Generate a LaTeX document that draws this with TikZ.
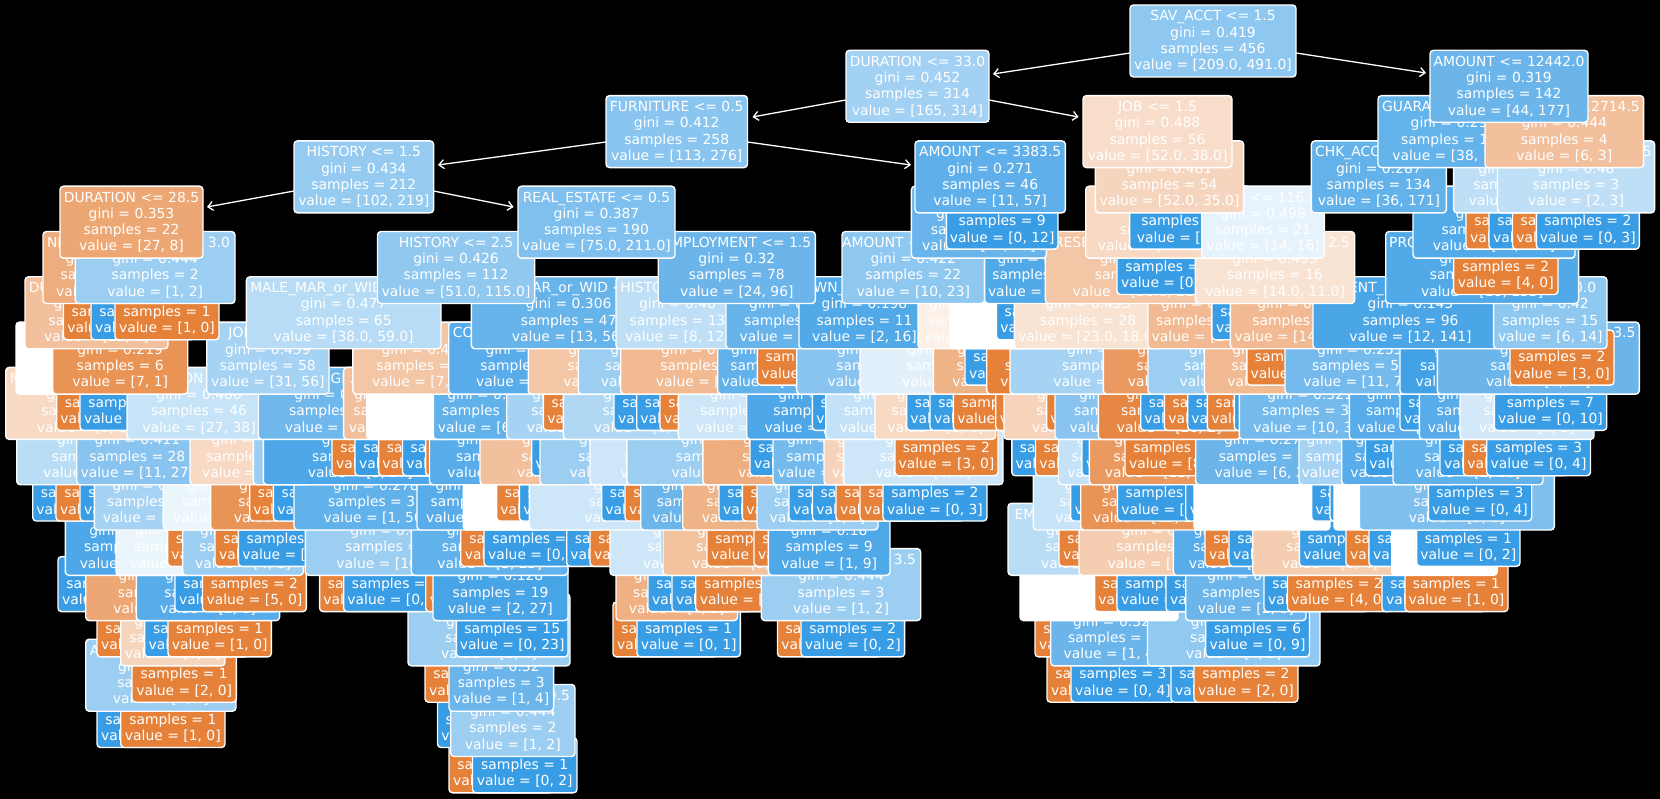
\documentclass[tikz,border=0pt]{standalone}
\usepackage{fontspec}
\setmainfont{DejaVu Sans}
\usetikzlibrary{arrows.meta}
\definecolor{b}{HTML}{399DE5}
\definecolor{o}{HTML}{E58139}
\tikzset{
  bx/.style={draw=white,line width=1.4pt,rounded corners=3.5pt,inner sep=0pt,outer sep=0pt,text=white,
    font=\fontsize{13.89}{16.3}\selectfont},
  edg/.style={draw=white,line width=1.3pt,-{Straight Barb[length=5pt,width=9pt]}}
}
\newcommand\tbn[1]{\raisebox{-1pt}[\height][\depth]{\makebox[0pt]{\begin{tabular}{@{}c@{}}#1\end{tabular}}}}
\newcommand\geo[3]{\pgfmathsetmacro\cxx{(#2+#3)/2}\pgfmathsetmacro\cyy{41+45.3*#1}\pgfmathsetmacro\wdd{#3-#2}}
% name level x1 x2 colour label gini samples value
\newcommand\ndn[9]{\geo{#2}{#3}{#4}\node[bx,fill=#5,minimum width=\wdd pt,minimum height=72pt] (#1) at (\cxx,\cyy)
  {\tbn{#6\\gini = #7\\samples = #8\\value = [#9]}};}
% name level x1 x2 colour samples value
\newcommand\lfn[7]{\geo{#2}{#3}{#4}\node[bx,fill=#5,minimum width=\wdd pt,minimum height=55pt] (#1) at (\cxx,\cyy-0.5)
  {\tbn{\\samples = #6\\value = [#7]}};}
\newcommand\whn[4]{\geo{#2}{#3}{#4}\node[bx,fill=white,minimum width=\wdd pt,minimum height=72pt] (#1) at (\cxx,\cyy) {};}
\begin{document}
\begin{tikzpicture}[x=1pt,y=-1pt]
\useasboundingbox[fill=black] (0,0) rectangle (1660,799);
% level 16
\lfn{p1}{16}{449}{553}{o}{1}{1, 0}
\lfn{p2}{16}{472.5}{577}{b}{1}{0, 2}
% level 15
\lfn{q1}{15}{97}{201}{b}{1}{0, 1}
\lfn{q2}{15}{120.7}{225}{o}{1}{1, 0}
\lfn{q3}{15}{437.5}{541}{b}{1}{0, 2}
\ndn{q4}{15}{450.7}{575}{b!50}{HISTORY <= 0.5}{0.444}{2}{1, 2}
% level 14
\ndn{r1}{14}{85.7}{236}{b!50}{AMOUNT <= 1372.5}{0.444}{2}{1, 2}
\lfn{r2}{14}{132}{236.4}{o}{1}{2, 0}
\lfn{r3}{14}{425}{529}{o}{1}{1, 0}
\ndn{r4}{14}{449}{553.6}{b!75}{}{0.32}{3}{1, 4}
\lfn{r5}{14}{1047}{1151}{o}{1}{1, 0}
\lfn{r6}{14}{1071}{1175}{b}{3}{0, 4}
\lfn{r7}{14}{1171}{1275}{b}{1}{0, 1}
\lfn{r8}{14}{1194}{1298}{o}{2}{2, 0}
% level 13
\lfn{s1}{13}{97}{201}{o}{1}{1, 0}
\ndn{s2}{13}{120.7}{225}{o!33}{}{0.48}{3}{3, 2}
\lfn{s3}{13}{144.6}{248.6}{b}{1}{0, 1}
\lfn{s4}{13}{168}{271.4}{o}{1}{1, 0}
\ndn{s5}{13}{408}{570}{b!50}{}{0.444}{4}{2, 4}
\lfn{s6}{13}{456.4}{568}{b}{15}{0, 23}
\lfn{s7}{13}{613}{717}{o}{1}{1, 0}
\lfn{s8}{13}{637}{740.4}{b}{1}{0, 1}
\lfn{s9}{13}{777.5}{881}{o}{1}{1, 0}
\lfn{s10}{13}{801}{904.6}{b}{2}{0, 2}
\lfn{s11}{13}{1035}{1139}{o}{1}{1, 0}
\ndn{s12}{13}{1050.7}{1172.5}{b!75}{}{0.32}{4}{1, 4}
\ndn{s13}{13}{1147.5}{1320}{b!55}{}{0.426}{7}{4, 9}
\lfn{s14}{13}{1205.7}{1309.5}{b}{6}{0, 9}
% level 12
\lfn{t1}{12}{58}{162}{b}{1}{0, 1}
\ndn{t2}{12}{85.7}{237}{o!70}{}{0.346}{5}{7, 2}
\ndn{t3}{12}{136.4}{279.6}{b!85}{}{0.245}{6}{1, 6}
\lfn{t4}{12}{175}{279}{b}{1}{0, 1}
\lfn{t5}{12}{202.5}{306.4}{o}{2}{5, 0}
\lfn{t6}{12}{319.6}{423}{o}{1}{1, 0}
\lfn{t7}{12}{343.6}{447}{b}{5}{0, 7}
\lfn{t8}{12}{425.7}{530}{o}{1}{1, 0}
\ndn{t9}{12}{433}{568}{b!93}{}{0.128}{19}{2, 27}
\ndn{t10}{12}{616}{737.5}{o!62}{}{0.444}{5}{4, 2}
\lfn{t11}{12}{648}{752}{b}{1}{0, 1}
\lfn{t12}{12}{672}{776}{b}{1}{0, 1}
\lfn{t13}{12}{695.7}{800}{o}{2}{3, 0}
\ndn{t14}{12}{761.4}{920.7}{b!50}{MALE\_SINGLE <= 3.5}{0.444}{3}{1, 2}
\whn{t15}{12}{1020}{1178}
\lfn{t16}{12}{1094.6}{1198}{o}{1}{1, 0}
\lfn{t17}{12}{1117}{1221}{b}{2}{0, 3}
\lfn{t18}{12}{1166}{1270}{b}{1}{0, 1}
\ndn{t19}{12}{1185.7}{1306}{b!75}{}{0.32}{4}{2, 8}
\lfn{t20}{12}{1264}{1368}{b}{1}{0, 1}
\lfn{t21}{12}{1287.5}{1391}{o}{2}{4, 0}
\lfn{t22}{12}{1382}{1486}{b}{1}{0, 1}
\lfn{t23}{12}{1405}{1508}{o}{1}{1, 0}
% level 11
\ndn{u1}{11}{65.3}{190}{b!90}{}{0.18}{7}{1, 9}
\ndn{u2}{11}{116}{240}{b!10}{}{0.498}{8}{7, 8}
\lfn{u3}{11}{167.7}{271}{o}{1}{1, 0}
\ndn{u4}{11}{182.7}{303.3}{b!50}{}{0.444}{9}{4, 8}
\lfn{u5}{11}{215}{319}{o}{1}{1, 0}
\lfn{u6}{11}{238.3}{342}{b}{5}{0, 8}
\ndn{u7}{11}{305.3}{481}{b!50}{}{0.444}{19}{10, 20}
\ndn{u8}{11}{411.4}{568}{b!80}{}{0.278}{21}{5, 25}
\lfn{u9}{11}{460.7}{565}{o}{1}{1, 0}
\lfn{u10}{11}{484}{588}{b}{5}{0, 8}
\lfn{u11}{11}{566.7}{670}{b}{1}{0, 1}
\lfn{u12}{11}{590}{694}{o}{1}{1, 0}
\ndn{u13}{11}{610}{772}{b!25}{}{0.49}{5}{3, 4}
\lfn{u14}{11}{661}{765}{b}{1}{0, 1}
\ndn{u15}{11}{663}{817}{o!48}{}{0.469}{7}{5, 3}
\lfn{u16}{11}{707}{811}{o}{2}{4, 0}
\lfn{u17}{11}{754}{858}{o}{1}{1, 0}
\ndn{u18}{11}{768.3}{890}{b!89}{}{0.18}{9}{1, 9}
\ndn{u19}{11}{1008}{1170}{b!35}{EMPLOYMENT <= 1.5}{0.473}{9}{5, 8}
\lfn{u20}{11}{1059}{1163}{o}{1}{1, 0}
\ndn{u21}{11}{1079}{1241}{o!40}{}{0.48}{9}{10, 6}
\ndn{u22}{11}{1173.3}{1300}{b!85}{}{0.245}{5}{1, 6}
\lfn{u23}{11}{1205}{1309}{o}{1}{1, 0}
\lfn{u24}{11}{1229}{1333}{b}{1}{0, 1}
\ndn{u25}{11}{1252.7}{1407}{o!40}{}{0.48}{7}{6, 4}
\lfn{u26}{11}{1299.3}{1403}{b}{3}{0, 4}
\lfn{u27}{11}{1346}{1450}{o}{1}{1, 0}
\lfn{u28}{11}{1369}{1473}{b}{1}{0, 1}
\whn{u29}{11}{1391.7}{1497.3}
\lfn{u30}{11}{1416.7}{1520}{b}{1}{0, 2}
% level 10
\lfn{v1}{10}{32.7}{136}{b}{1}{0, 1}
\lfn{v2}{10}{56}{160}{o}{1}{1, 0}
\lfn{v3}{10}{80}{184}{b}{1}{0, 1}
\ndn{v4}{10}{94.3}{216}{b!45}{}{0.459}{12}{9, 16}
\ndn{v5}{10}{163.3}{297}{b!10}{}{0.499}{15}{10, 11}
\ndn{v6}{10}{210.7}{353}{o!85}{}{0.245}{5}{6, 1}
\lfn{v7}{10}{249.7}{353}{o}{2}{5, 0}
\lfn{v8}{10}{273.3}{377}{b}{1}{0, 1}
\ndn{v9}{10}{294}{458}{b!80}{}{0.278}{31}{1, 50}
\ndn{v10}{10}{417}{540}{b!85}{}{0.245}{10}{2, 12}
\whn{v11}{10}{463.3}{605}
\lfn{v12}{10}{496.7}{600}{o}{1}{1, 0}
\lfn{v13}{10}{519.3}{623}{b}{1}{0, 1}
\ndn{v14}{10}{529.3}{735}{b!25}{}{0.49}{9}{6, 8}
\lfn{v15}{10}{601.7}{705}{b}{1}{0, 1}
\lfn{v16}{10}{625}{729}{o}{1}{1, 0}
\ndn{v17}{10}{640.7}{760}{b!75}{}{0.32}{7}{2, 8}
\ndn{v18}{10}{682.7}{817}{o!60}{}{0.408}{7}{5, 2}
\lfn{v19}{10}{719}{823}{b}{1}{0, 1}
\lfn{v20}{10}{742.3}{846}{o}{1}{1, 0}
\ndn{v21}{10}{757}{878}{b!50}{}{0.444}{7}{3, 6}
\lfn{v22}{10}{789}{893}{b}{1}{0, 1}
\lfn{v23}{10}{812.5}{916}{b}{1}{0, 1}
\lfn{v24}{10}{836}{940}{o}{1}{1, 0}
\lfn{v25}{10}{860}{964}{o}{1}{1, 0}
\lfn{v26}{10}{883}{987}{b}{2}{0, 3}
\ndn{v27}{10}{1033.3}{1173}{b!28}{}{0.48}{9}{6, 9}
\lfn{v28}{10}{1070.7}{1175}{b}{1}{0, 1}
\ndn{v29}{10}{1080.7}{1210}{o!85}{}{0.245}{7}{12, 2}
\lfn{v30}{10}{1117.3}{1221}{b}{2}{0, 3}
\lfn{v31}{10}{1185.7}{1290}{b}{1}{0, 1}
\whn{v32}{10}{1194}{1330}
\lfn{v33}{10}{1311.7}{1415}{b}{1}{0, 1}
\lfn{v34}{10}{1330}{1434}{b}{1}{0, 1}
\whn{v35}{10}{1334}{1480}
\ndn{v36}{10}{1359.3}{1554.3}{b!65}{}{0.397}{5}{3, 8}
\lfn{v37}{10}{1428.3}{1531.7}{b}{3}{0, 4}
% level 9
\ndn{w1}{9}{16.7}{183}{b!35}{}{0.473}{13}{10, 16}
\ndn{w2}{9}{76.7}{198}{b!60}{}{0.411}{28}{11, 27}
\ndn{w3}{9}{190}{310}{o!30}{}{0.49}{9}{8, 6}
\ndn{w4}{9}{253.3}{380}{b!50}{}{0.444}{5}{3, 6}
\ndn{w5}{9}{263.3}{457}{b!90}{}{0.18}{21}{3, 27}
\lfn{w6}{9}{332}{436}{o}{1}{1, 0}
\lfn{w7}{9}{355}{459}{b}{1}{0, 1}
\lfn{w8}{9}{378.6}{482}{o}{1}{1, 0}
\lfn{w9}{9}{402.5}{506}{b}{1}{0, 1}
\lfn{w10}{9}{425.7}{530}{o}{1}{1, 0}
\ndn{w11}{9}{429.5}{570}{b!85}{}{0.245}{9}{2, 12}
\ndn{w12}{9}{480}{650}{o!50}{}{0.461}{9}{9, 5}
\lfn{w13}{9}{531.7}{635}{b}{1}{0, 1}
\ndn{w14}{9}{540}{704}{b!50}{}{0.444}{8}{5, 10}
\ndn{w15}{9}{590}{746}{b!25}{}{0.49}{6}{6, 8}
\ndn{w16}{9}{626.8}{821}{b!50}{}{0.444}{10}{7, 14}
\ndn{w17}{9}{702.9}{869}{o!65}{}{0.375}{7}{6, 2}
\lfn{w18}{9}{750}{854}{b}{1}{0, 1}
\ndn{w19}{9}{773}{887}{b!70}{}{0.355}{7}{3, 10}
\ndn{w20}{9}{824}{936}{o!35}{}{0.469}{5}{5, 3}
\ndn{w21}{9}{843.6}{1003}{b!25}{}{0.49}{9}{6, 8}
\lfn{w22}{9}{895}{998}{o}{2}{3, 0}
\lfn{w23}{9}{1011.8}{1115}{b}{1}{0, 1}
\lfn{w24}{9}{1035.5}{1139}{o}{1}{1, 0}
\ndn{w25}{9}{1058.5}{1172}{b!30}{}{0.48}{5}{4, 6}
\lfn{w26}{9}{1082}{1186}{b}{1}{0, 1}
\ndn{w27}{9}{1089.3}{1225}{o!80}{}{0.278}{9}{15, 3}
\lfn{w28}{9}{1125}{1229}{o}{5}{8, 0}
\ndn{w29}{9}{1195.7}{1338}{b!75}{}{0.278}{16}{6, 24}
\ndn{w30}{9}{1299}{1400}{b!45}{}{0.459}{7}{4, 7}
\ndn{w31}{9}{1341.7}{1455}{b!85}{}{0.245}{5}{1, 6}
\lfn{w32}{9}{1365.5}{1469}{b}{1}{0, 1}
\ndn{w33}{9}{1393}{1543}{b!80}{}{0.278}{9}{2, 10}
\lfn{w34}{9}{1440}{1544}{b}{1}{0, 1}
\lfn{w35}{9}{1463.3}{1567}{o}{1}{1, 0}
\lfn{w36}{9}{1486.7}{1590.5}{b}{3}{0, 4}
% level 8
\ndn{x1}{8}{5.7}{164}{o!30}{MALE\_SINGLE <= 0.5}{0.49}{5}{8, 6}
\lfn{x2}{8}{56.7}{160}{o}{1}{1, 0}
\lfn{x3}{8}{80}{184}{b}{2}{0, 3}
\ndn{x4}{8}{127}{271}{b!29}{DURATION <= 22.5}{0.486}{46}{27, 38}
\ndn{x5}{8}{258.3}{416}{b!72}{MALE\_SINGLE <= 0.5}{0.408}{24}{8, 28}
\ndn{x6}{8}{343.6}{450}{o!50}{AGE <= 25.5}{0.444}{7}{9, 4}
\whn{x7}{8}{366.7}{500}
\ndn{x8}{8}{433.3}{547}{b!80}{}{0.278}{31}{6, 30}
\ndn{x9}{8}{506.7}{643}{b!45}{}{0.459}{9}{5, 9}
\lfn{x10}{8}{543.3}{647}{o}{1}{1, 0}
\ndn{x11}{8}{563.3}{729}{b!40}{}{0.469}{9}{6, 10}
\lfn{x12}{8}{614}{718}{b}{1}{0, 1}
\lfn{x13}{8}{636.7}{740}{b}{1}{0, 1}
\lfn{x14}{8}{660}{764}{o}{1}{1, 0}
\ndn{x15}{8}{678.3}{818}{b!25}{}{0.49}{15}{9, 12}
\ndn{x16}{8}{746.7}{887}{b!90}{}{0.18}{9}{2, 18}
\lfn{x17}{8}{812.3}{916}{b}{1}{0, 1}
\ndn{x18}{8}{825.7}{958}{b!30}{}{0.48}{12}{7, 10}
\ndn{x19}{8}{875}{995.7}{o!30}{}{0.49}{9}{8, 6}
\lfn{x20}{8}{906.7}{1010}{b}{1}{0, 1}
\lfn{x21}{8}{930}{1034}{b}{1}{0, 1}
\lfn{x22}{8}{953.3}{1057}{o}{2}{3, 0}
\lfn{x23}{8}{995.7}{1100}{o}{1}{1, 0}
\ndn{x24}{8}{1004}{1156}{o!35}{}{0.469}{9}{8, 5}
\lfn{x25}{8}{1046.7}{1150}{o}{1}{1, 0}
\ndn{x26}{8}{1055}{1189}{b!60}{}{0.408}{10}{5, 12}
\ndn{x27}{8}{1098.3}{1240}{o!95}{}{0.095}{12}{20, 1}
\lfn{x28}{8}{1140.7}{1244}{b}{1}{0, 1}
\lfn{x29}{8}{1164.3}{1268}{o}{1}{1, 0}
\lfn{x30}{8}{1187.7}{1291}{b}{1}{0, 1}
\lfn{x31}{8}{1207.3}{1311}{o}{1}{1, 0}
\lfn{x32}{8}{1234.3}{1338}{b}{1}{0, 1}
\ndn{x33}{8}{1239.3}{1381}{b!70}{}{0.321}{33}{10, 33}
\ndn{x34}{8}{1349.3}{1470}{b!85}{}{0.245}{7}{2, 12}
\lfn{x35}{8}{1400}{1504}{b}{1}{0, 1}
\ndn{x36}{8}{1419.3}{1541}{b!85}{}{0.245}{7}{2, 12}
\ndn{x37}{8}{1460}{1594}{b!22}{}{0.494}{7}{7, 9}
\lfn{x38}{8}{1494.3}{1606.7}{b}{7}{0, 10}
% level 7
\whn{y1}{7}{16}{150}
\ndn{y2}{7}{52.7}{187.7}{o!86}{}{0.219}{6}{7, 1}
\ndn{y3}{7}{206.7}{329}{b!45}{JOB <= 1.5}{0.459}{58}{31, 56}
\ndn{y4}{7}{352.9}{487}{o!45}{}{0.42}{9}{7, 3}
\ndn{y5}{7}{448.7}{608}{b!85}{COAPPLICANT <= 0.5}{0.245}{21}{6, 36}
\ndn{y6}{7}{528.3}{694}{o!45}{}{0.461}{9}{9, 5}
\ndn{y7}{7}{578.3}{728}{b!50}{}{0.444}{12}{7, 14}
\ndn{y8}{7}{620.7}{787}{o!55}{}{0.426}{9}{9, 4}
\ndn{y9}{7}{717.7}{830}{b!80}{}{0.278}{9}{2, 10}
\lfn{y10}{7}{757.3}{861}{o}{2}{3, 0}
\ndn{y11}{7}{796.7}{963}{b!60}{}{0.397}{9}{5, 13}
\ndn{y12}{7}{860}{1040}{b!15}{}{0.497}{6}{6, 7}
\ndn{y13}{7}{933.3}{1067}{o!60}{}{0.408}{5}{5, 2}
\lfn{y14}{7}{965}{1069}{b}{1}{0, 1}
\ndn{y15}{7}{986.7}{1110}{o}{}{0.0}{3}{3, 0}
\ndn{y16}{7}{1010}{1210}{b!45}{}{0.459}{22}{14, 25}
\ndn{y17}{7}{1103.3}{1257}{o!80}{}{0.278}{9}{10, 2}
\ndn{y18}{7}{1148}{1316}{b!50}{}{0.444}{12}{7, 14}
\ndn{y19}{7}{1204.3}{1346}{o!55}{}{0.426}{9}{9, 4}
\lfn{y20}{7}{1246.8}{1350}{o}{2}{3, 0}
\ndn{y21}{7}{1285}{1435}{b!70}{}{0.255}{55}{11, 75}
\ndn{y22}{7}{1400}{1536}{b!95}{}{0.1}{12}{1, 18}
\ndn{y23}{7}{1437.3}{1639.3}{b!75}{PRESENT\_RESIDENT <= 3.5}{0.32}{21}{6, 24}
\lfn{y24}{7}{1510}{1614}{o}{2}{3, 0}
% level 6
\ndn{z1}{6}{25}{168}{o!50}{DURATION <= 22.5}{0.391}{16}{22, 8}
\lfn{z2}{6}{63.5}{167}{o}{1}{1, 0}
\lfn{z3}{6}{91}{195}{b}{1}{0, 1}
\lfn{z4}{6}{115}{219}{o}{1}{1, 0}
\ndn{z5}{6}{246.4}{441}{b!36}{MALE\_MAR\_or\_WID <= 0.5}{0.477}{65}{38.0, 59.0}
\ndn{z6}{6}{471.4}{666}{b!77}{MALE\_MAR\_or\_WID <= 0.5}{0.306}{47}{13, 56}
\ndn{z7}{6}{616}{739}{b!33}{HISTORY <= 0.5}{0.48}{13}{8, 12}
\ndn{z8}{6}{726}{858}{b!77}{}{0.306}{20}{5, 22}
\ndn{z9}{6}{799}{930}{b!88}{OWN\_RES <= 0.5}{0.198}{11}{2, 16}
\ndn{z10}{6}{918}{1026}{o!12}{}{0.498}{6}{8, 7}
\whn{z11}{6}{950}{1080}
\lfn{z12}{6}{996.4}{1100}{b}{1}{0, 1}
\ndn{z13}{6}{1014.3}{1162}{o!22}{}{0.493}{28}{23.0, 18.0}
\ndn{z14}{6}{1148}{1260}{o!55}{}{0.426}{10}{14, 6}
\lfn{z15}{6}{1211.8}{1316}{b}{1}{0, 1}
\ndn{z16}{6}{1230.4}{1370}{o!55}{}{0.426}{12}{14.0, 6.0}
\ndn{z17}{6}{1313}{1508}{b!91}{PRESENT\_RESIDENT <= 1.5}{0.145}{96}{12, 141}
\ndn{z18}{6}{1493.6}{1607}{b!57}{AGE <= 30.0}{0.42}{15}{6, 14}
% level 5
\ndn{f1}{5}{43}{174}{o!65}{NEW\_CAR <= 0.5}{0.375}{20}{26, 6}
\ndn{f2}{5}{75.4}{235}{b!50}{MALE\_SINGLE <= 3.0}{0.444}{2}{1, 2}
\ndn{f3}{5}{377.5}{534.6}{b!56}{HISTORY <= 2.5}{0.426}{112}{51.0, 115.0}
\ndn{f4}{5}{658.2}{815.4}{b!75}{EMPLOYMENT <= 1.5}{0.32}{78}{24, 96}
\ndn{f5}{5}{842}{984.6}{b!57}{AMOUNT <= 1234.5}{0.422}{22}{10, 23}
\ndn{f6}{5}{984.6}{1096}{b!88}{}{0.198}{15}{1, 22}
\ndn{f7}{5}{1045.4}{1240}{o!45}{PRESENT\_RESIDENT <= 2.5}{0.461}{38}{38.0, 21.0}
\lfn{f8}{5}{1117}{1221}{b}{5}{0, 3}
\ndn{f9}{5}{1195.4}{1354.6}{o!22}{MALE\_SINGLE <= 2.5}{0.493}{16}{14.0, 11.0}
\ndn{f10}{5}{1385.7}{1578.6}{b!88}{PROP\_UNKN\_NONE <= 0.5}{0.198}{111}{18, 155}
\lfn{f11}{5}{1453.6}{1558}{o}{2}{4, 0}
% level 4
\ndn{dur}{4}{60}{203}{o!70}{DURATION <= 28.5}{0.353}{22}{27, 8}
\ndn{real}{4}{518}{675}{b!64}{REAL\_ESTATE <= 0.5}{0.387}{190}{75.0, 211.0}
\ndn{g1}{4}{911.4}{1046.4}{b!76}{}{0.315}{37}{11, 45}
\lfn{g2}{4}{946.4}{1058}{b}{9}{0, 12}
\ndn{g3}{4}{1085.7}{1250}{o!30}{}{0.49}{33}{38.0, 19.0}
\lfn{g4}{4}{1129.6}{1240}{b}{5}{0, 8}
\ndn{g5}{4}{1201.8}{1324.3}{b!12}{RENT <= 116.5}{0.498}{21}{14, 16}
\ndn{g6}{4}{1413}{1575}{b!87}{}{0.21}{129}{24, 160}
\lfn{g7}{4}{1466}{1570}{o}{1}{1, 0}
\lfn{g8}{4}{1489}{1593}{b}{1}{0, 1}
\lfn{g9}{4}{1512.5}{1616}{o}{1}{1, 0}
\lfn{g10}{4}{1536.4}{1639.3}{b}{2}{0, 3}
% level 3
\ndn{hist}{3}{294}{433.6}{b!53}{HISTORY <= 1.5}{0.434}{212}{102, 219}
\ndn{amt}{3}{915}{1065.4}{b!81}{AMOUNT <= 3383.5}{0.271}{46}{11, 57}
\ndn{h1}{3}{1095.4}{1243.6}{o!33}{}{0.481}{54}{52.0, 35.0}
\ndn{h2}{3}{1311.4}{1446.4}{b!79}{CHK\_ACCT <= 1.5}{0.287}{134}{36, 171}
\ndn{h3}{3}{1453.6}{1580}{b!33}{}{0.48}{5}{2, 3}
\ndn{h4}{3}{1497.5}{1654.6}{b!33}{AMOUNT <= 13714.5}{0.48}{3}{2, 3}
% level 2
\ndn{furn}{2}{606}{747.5}{b!59}{FURNITURE <= 0.5}{0.412}{258}{113, 276}
\ndn{job}{2}{1083}{1232}{o!27}{JOB <= 1.5}{0.488}{56}{52.0, 38.0}
\ndn{guar}{2}{1378}{1529}{b!78}{GUARANTOR <= 0.5}{0.293}{138}{38, 174}
\ndn{k1}{2}{1485}{1643.6}{o!50}{AMOUNT <= 12714.5}{0.444}{4}{6, 3}
% level 1
\ndn{dura}{1}{846}{989}{b!47}{DURATION <= 33.0}{0.452}{314}{165, 314}
\ndn{amtb}{1}{1430}{1588}{b!75}{AMOUNT <= 12442.0}{0.319}{142}{44, 177}
% level 0
\ndn{root}{0}{1130}{1296}{b!57}{SAV\_ACCT <= 1.5}{0.419}{456}{209.0, 491.0}
% connectors
\draw[edg] ([yshift=-12pt]root.west) -- ([xshift=4pt,yshift=12.3pt]dura.east);
\draw[edg] ([yshift=-12pt]root.east) -- ([xshift=-4pt,yshift=13.3pt]amtb.west);
\draw[edg] ([yshift=-13.7pt]dura.west) -- ([xshift=5pt,yshift=14.6pt]furn.east);
\draw[edg] ([yshift=-13.7pt]dura.east) -- ([xshift=-4.4pt,yshift=14.6pt]job.west);
\draw[edg] ([yshift=-10.4pt]furn.west) -- ([xshift=4.4pt,yshift=11.9pt]hist.east);
\draw[edg] ([yshift=-10.4pt]furn.east) -- ([xshift=-4pt,yshift=11.9pt]amt.west);
\draw[edg] ([yshift=-14.1pt]hist.west) -- ([xshift=4pt,yshift=15.2pt]dur.east);
\draw[edg] ([yshift=-14.1pt]hist.east) -- ([xshift=-4.4pt,yshift=15.2pt]real.west);
\end{tikzpicture}
\end{document}
